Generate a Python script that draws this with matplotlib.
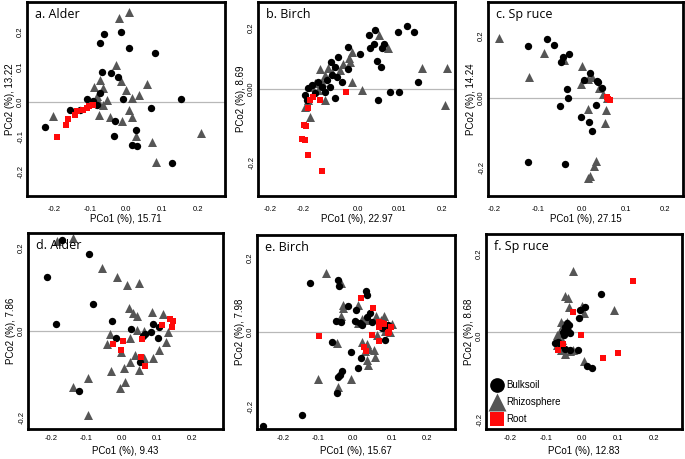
import matplotlib.pyplot as plt

W, H = 685, 459

# ---- data (PCo1, PCo2) ----
a_bulk = [(-0.061, 0.194), (-0.015, 0.200), (-0.072, 0.169), (0.009, 0.154), (0.081, 0.139),
          (-0.068, 0.086), (-0.043, 0.084), (-0.021, 0.071), (-0.109, 0.009), (-0.081, -0.010),
          (-0.007, 0.009), (0.153, 0.008), (0.069, -0.018), (-0.156, -0.024), (-0.128, -0.022),
          (-0.030, -0.055), (-0.225, -0.071), (-0.033, -0.097), (0.028, -0.081), (0.018, -0.124),
          (0.031, -0.127), (0.127, -0.174), (-0.072, 0.026), (-0.091, 0.002)]
a_rhizo = [(0.009, 0.256), (-0.019, 0.240), (-0.028, 0.107), (-0.015, 0.061), (-0.072, 0.064),
           (-0.089, 0.043), (-0.063, 0.040), (0.0, 0.033), (0.057, 0.052), (0.037, 0.021),
           (0.016, 0.011), (-0.054, 0.007), (-0.063, -0.010), (-0.076, -0.036), (-0.044, -0.043),
           (-0.012, -0.055), (0.009, -0.022), (0.016, -0.043), (0.028, -0.098), (0.071, -0.115),
           (0.083, -0.172), (0.208, -0.090), (-0.204, -0.039), (-0.081, 0.016), (-0.077, 0.002)]
a_root = [(-0.193, -0.100), (-0.167, -0.065), (-0.160, -0.048), (-0.142, -0.036), (-0.135, -0.027),
          (-0.119, -0.022), (-0.109, -0.017), (-0.102, -0.012), (-0.093, -0.010)]

b_bulk = [(0.0425, 0.170), (0.0275, 0.156), (0.122, 0.180), (0.101, 0.162), (0.141, 0.162),
          (-0.026, 0.119), (0.031, 0.118), (0.059, 0.116), (0.040, 0.130), (0.066, 0.130),
          (0.005, 0.099), (-0.051, 0.092), (-0.0675, 0.078), (-0.0575, 0.064), (-0.026, 0.057),
          (0.047, 0.080), (0.0575, 0.064), (-0.041, 0.021), (0.151, 0.021), (0.080, -0.0095),
          (0.1025, -0.0095), (0.049, -0.031), (-0.0575, -0.027), (-0.1325, -0.017), (-0.128, -0.031),
          (-0.1075, -0.012), (-0.091, 0.007), (-0.116, 0.011), (-0.078, 0.026), (-0.066, 0.040),
          (-0.099, 0.021), (-0.0825, -0.008), (-0.124, 0.002), (-0.070, 0.007), (-0.053, 0.035)]
b_rhizo = [(0.0525, 0.154), (0.076, 0.116), (-0.016, 0.105), (-0.0225, 0.088), (-0.095, 0.056),
           (-0.074, 0.059), (-0.045, 0.054), (-0.016, 0.021), (0.011, -0.003), (0.161, 0.061),
           (0.222, 0.059), (0.2175, -0.046), (-0.1325, -0.052), (-0.120, -0.079), (-0.0825, -0.031),
           (-0.091, 0.021), (-0.1075, 0.016), (-0.116, 0.005), (-0.0825, 0.040), (-0.066, 0.0495),
           (-0.099, -0.003), (-0.037, 0.073), (-0.020, 0.078), (-0.124, -0.031)]
b_root = [(-0.031, -0.0095), (-0.134, -0.103), (-0.130, -0.106), (-0.139, -0.144), (-0.1325, -0.146),
          (-0.126, -0.190), (-0.089, -0.234), (-0.124, -0.055), (-0.112, -0.022), (-0.095, -0.031),
          (-0.120, -0.031)]

c_bulk = [(-0.1235, 0.159), (-0.0795, 0.178), (-0.0636, 0.161), (-0.044, 0.125), (-0.0288, 0.133),
          (-0.0477, 0.108), (0.0182, 0.075), (0.0038, 0.0545), (0.0333, 0.0515), (0.037, 0.0495),
          (0.0447, 0.029), (-0.034, 0.026), (-0.031, 0.001), (-0.049, -0.024), (0.032, -0.021),
          (-0.002, -0.0566), (0.016, -0.072), (0.022, -0.099), (-0.122, -0.195), (-0.0386, -0.200)]
c_rhizo = [(-0.190, 0.183), (-0.0856, 0.135), (-0.1197, 0.0626), (-0.040, 0.115), (-0.0008, 0.098),
           (0.022, 0.0646), (0.0129, 0.0566), (-0.0023, 0.042), (0.0386, 0.029), (0.0485, 0.012),
           (0.056, -0.001), (0.0144, -0.034), (0.0538, -0.036), (0.052, -0.075), (0.031, -0.191),
           (0.028, -0.206), (0.018, -0.236), (0.0129, -0.243)]
c_root = [(0.060, -0.003), (0.0636, -0.006), (0.056, 0.002)]

d_bulk = [(-0.170, 0.2167), (-0.092, 0.183), (-0.210, 0.128), (-0.081, 0.065), (-0.186, 0.016),
          (-0.026, 0.0246), (-0.015, -0.0175), (0.027, 0.005), (0.060, -0.012), (0.0667, -0.008),
          (0.0836, -0.0016), (0.090, 0.016), (0.102, -0.0175), (0.107, 0.0087), (0.0507, -0.073),
          (-0.120, -0.143)]
d_rhizo = [(-0.139, 0.2206), (-0.184, 0.214), (-0.0545, 0.149), (-0.013, 0.128), (0.016, 0.1095),
           (0.0488, 0.115), (0.0207, 0.054), (0.032, 0.042), (0.043, 0.0365), (0.0864, 0.046),
           (0.118, 0.040), (0.1305, -0.0016), (0.126, -0.027), (0.107, -0.045), (0.090, -0.065),
           (0.063, -0.065), (0.0366, -0.057), (0.0225, -0.073), (0.0488, -0.093), (0.0056, -0.087),
           (0.011, -0.122), (-0.0056, -0.1365), (-0.029, -0.095), (-0.032, -0.008), (-0.041, -0.032),
           (-0.001, -0.051), (0.024, -0.0175), (0.043, 0.0024), (0.062, 0.0), (-0.095, -0.111),
           (-0.139, -0.1325), (-0.095, -0.200)]
d_root = [(0.137, 0.0278), (0.1465, 0.0246), (0.1427, 0.0103), (0.1136, 0.0143), (0.058, -0.019),
          (0.0038, -0.023), (-0.0244, -0.031), (-0.0028, -0.045), (0.0554, -0.061), (0.0667, -0.0825)]

e_bulk = [(-0.123, 0.132), (-0.044, 0.139), (-0.040, 0.1236), (0.036, 0.109), (0.039, 0.0987),
          (-0.0133, 0.069), (0.0076, 0.060), (0.0486, 0.052), (-0.0495, 0.030), (-0.034, 0.026),
          (0.0057, 0.030), (0.020, 0.023), (0.053, 0.0276), (0.0267, 0.0187), (0.0895, 0.0187),
          (0.101, 0.0187), (0.0914, -0.0213), (-0.059, -0.0258), (-0.0057, -0.0524), (0.0229, -0.070),
          (0.0133, -0.097), (-0.032, -0.103), (-0.037, -0.1147), (-0.042, -0.119), (-0.0467, -0.162),
          (-0.1448, -0.221), (-0.256, -0.250), (0.082, 0.0098), (0.039, 0.041)]
e_rhizo = [(-0.078, 0.158), (-0.034, 0.130), (-0.030, 0.072), (-0.0276, 0.065), (0.015, 0.072),
           (-0.034, 0.0436), (0.0248, 0.0338), (0.036, 0.032), (0.0133, 0.023), (0.0438, 0.0364),
           (0.0648, 0.0436), (0.0895, 0.0436), (0.080, 0.032), (0.0676, -0.008), (0.101, 0.0187),
           (0.110, 0.0204), (0.0267, -0.0258), (0.039, -0.033), (0.0343, -0.0507), (0.0457, -0.0453),
           (0.061, -0.048), (0.0629, -0.0658), (0.039, -0.0747), (0.0419, -0.088), (-0.0467, -0.030),
           (-0.101, -0.125), (-0.0057, -0.125), (-0.042, -0.146), (0.0914, 0.0027), (0.1057, 0.0009)]
e_root = [(-0.097, -0.0098), (0.0229, 0.0898), (0.058, 0.065), (0.0743, 0.0276), (0.082, 0.023),
          (0.0895, 0.0204), (0.1086, 0.0142), (0.103, -0.0009), (0.099, -0.0036), (0.0743, -0.023),
          (0.0552, -0.008), (0.0324, -0.039), (0.036, -0.052), (0.0743, 0.0142)]

f_bulk = [(0.0528, 0.094), (0.0083, 0.063), (-0.0056, 0.055), (-0.0083, 0.034), (-0.036, 0.0175),
          (-0.047, 0.0133), (-0.040, 0.0025), (-0.052, -0.0008), (-0.049, -0.0075), (-0.075, -0.028),
          (-0.047, -0.0425), (-0.033, -0.045), (-0.010, -0.045), (0.013, -0.084), (0.0287, -0.091),
          (-0.0426, 0.0217), (-0.033, -0.0033), (-0.058, -0.0325), (-0.0657, -0.024)]
f_rhizo = [(-0.024, 0.153), (-0.047, 0.090), (-0.040, 0.084), (-0.035, 0.063), (0.0009, 0.065),
           (0.0065, 0.0467), (0.0898, 0.055), (-0.058, 0.024), (-0.0426, 0.024), (-0.047, 0.0025),
           (-0.064, -0.0033), (-0.0657, -0.0175), (-0.0565, -0.020), (-0.070, -0.0325), (-0.064, -0.0367),
           (-0.058, -0.045), (-0.047, -0.056), (-0.033, -0.0475), (-0.024, -0.045), (0.0065, -0.0725),
           (-0.052, 0.0175), (-0.070, -0.0075)]
f_root = [(0.1426, 0.128), (-0.024, 0.051), (-0.0028, -0.0075), (-0.052, -0.031), (-0.0657, -0.045),
          (0.0593, -0.066), (0.099, -0.053)]

titles = ['a. Alder', 'b. Birch', 'c. Sp ruce', 'd. Alder', 'e. Birch', 'f. Sp ruce']
xlabels = ['PCo1 (%), 15.71', 'PCo1 (%), 22.97', 'PCo1 (%), 27.15',
           'PCo1 (%), 9.43', 'PCo1 (%), 15.67', 'PCo1 (%), 12.83']
ylabels = ['PCo2 (%), 13.22', 'PCo2 (%), 8.69', 'PCo2 (%), 14.24',
           'PCo2 (%), 7.86', 'PCo2 (%), 7.98', 'PCo2 (%), 8.68']

# tick positions and their (sometimes odd) printed labels
xtick_pos = [[-0.2, -0.1, 0.0, 0.1, 0.2],
             [-0.22, -0.1375, 0.0, 0.1025, 0.21],
             [-0.2, -0.1, 0.0, 0.1, 0.19],
             [-0.2, -0.1, 0.0, 0.1, 0.2],
             [-0.2, -0.1, 0.0, 0.11, 0.21],
             [-0.2, -0.1, 0.0, 0.1, 0.2]]
xtick_lab = [['-0.2', '-0.1', '0.0', '0.1', '0.2'],
             ['-0.2', '-0.2', '0.0', '0.01', '0.2'],
             ['-0.2', '-0.1', '0.0', '0.1', '0.2'],
             ['-0.2', '-0.1', '0.0', '0.1', '0.2'],
             ['-0.2', '-0.1', '0.0', '0.1', '0.2'],
             ['-0.2', '-0.1', '0.0', '0.1', '0.2']]
ytick_pos = [[-0.2, -0.1, 0.0, 0.1, 0.2],
             [-0.211, 0.0, 0.174],
             [-0.21, 0.0, 0.19],
             [-0.205, 0.0, 0.198],
             [-0.2, 0.0, 0.197],
             [-0.22, -0.01, 0.195]]
ytick_lab = [['-0.2', '-0.1', '0.0', '0.1', '0.2'],
             ['-0.2', '0.00', '0.2'],
             ['-0.2', '0.00', '0.2'],
             ['-0.2', '0.0', '0.2'],
             ['-0.2', '0.0', '0.2'],
             ['-0.2', '0.0', '0.2']]

xlims = [(-0.275, 0.275), (-0.25, 0.2425), (-0.214, 0.23),
         (-0.265, 0.287), (-0.274, 0.291), (-0.267, 0.278)]
ylims = [(-0.269, 0.286), (-0.306, 0.249), (-0.297, 0.291),
         (-0.233, 0.233), (-0.259, 0.259), (-0.2425, 0.245)]

# axes boxes in pixels: x0, y0 (top), x1, y1 (bottom)
boxes = [(27, 2, 225, 196), (258, 2, 455, 196), (488, 2, 683, 196),
         (28, 233, 223, 429), (257, 235, 455, 429), (486, 234, 682, 429)]

panels = [(a_bulk, a_rhizo, a_root), (b_bulk, b_rhizo, b_root), (c_bulk, c_rhizo, c_root),
          (d_bulk, d_rhizo, d_root), (e_bulk, e_rhizo, e_root), (f_bulk, f_rhizo, f_root)]

GREY = '#565656'
RED = '#ff0a0a'
tick_font = 'Liberation Sans'
title_font = 'Open Sans'

fig = plt.figure(figsize=(W / 100, H / 100), dpi=100)

for i, (bulk, rhizo, root) in enumerate(panels):
    x0, y0, x1, y1 = boxes[i]
    ax = fig.add_axes([x0 / W, 1 - y1 / H, (x1 - x0) / W, (y1 - y0) / H])
    ax.axhline(0, color='#b8b8b8', lw=0.9, zorder=0)

    ax.scatter([p[0] for p in rhizo], [p[1] for p in rhizo], marker='^', s=42,
               color=GREY, linewidths=0, zorder=2, label='Rhizosphere')
    ax.scatter([p[0] for p in bulk], [p[1] for p in bulk], marker='o', s=28,
               color='black', linewidths=0, zorder=3, label='Bulksoil')
    ax.scatter([p[0] for p in root], [p[1] for p in root], marker='s', s=24,
               color=RED, linewidths=0, zorder=4, label='Root')

    top_row = i < 3
    ax.set_xlim(xlims[i])
    ax.set_ylim(ylims[i])
    ax.set_xticks(xtick_pos[i])
    ax.set_xticklabels(xtick_lab[i], fontsize=5.5, family=tick_font)
    ax.set_yticks(ytick_pos[i])
    ax.set_yticklabels(ytick_lab[i], fontsize=5.5, family=tick_font,
                       rotation=90, va='center')
    ax.tick_params(axis='both', length=0)
    ax.tick_params(axis='x', pad=7 if top_row else 4)
    ax.tick_params(axis='y', pad=2)
    ax.set_xlabel(xlabels[i], fontsize=7, family=tick_font,
                  labelpad=1 if top_row else 3)
    ax.set_ylabel(ylabels[i], fontsize=7, family=tick_font, labelpad=1.5)
    for sp in ax.spines.values():
        sp.set_linewidth(2.0)
        sp.set_color('black')
    ax.text(0.04, 0.97, titles[i], transform=ax.transAxes, ha='left', va='top',
            fontsize=9, family=title_font)

    if i == 5:
        h, l = ax.get_legend_handles_labels()
        order = [1, 0, 2]
        ax.legend([h[k] for k in order], [l[k] for k in order], loc='lower left',
                  frameon=False, markerscale=2.0, handletextpad=0.3,
                  labelspacing=0.7, borderaxespad=0.15, handlelength=1.2,
                  prop={'family': tick_font, 'size': 7})

fig.savefig('out.png', dpi=100)
